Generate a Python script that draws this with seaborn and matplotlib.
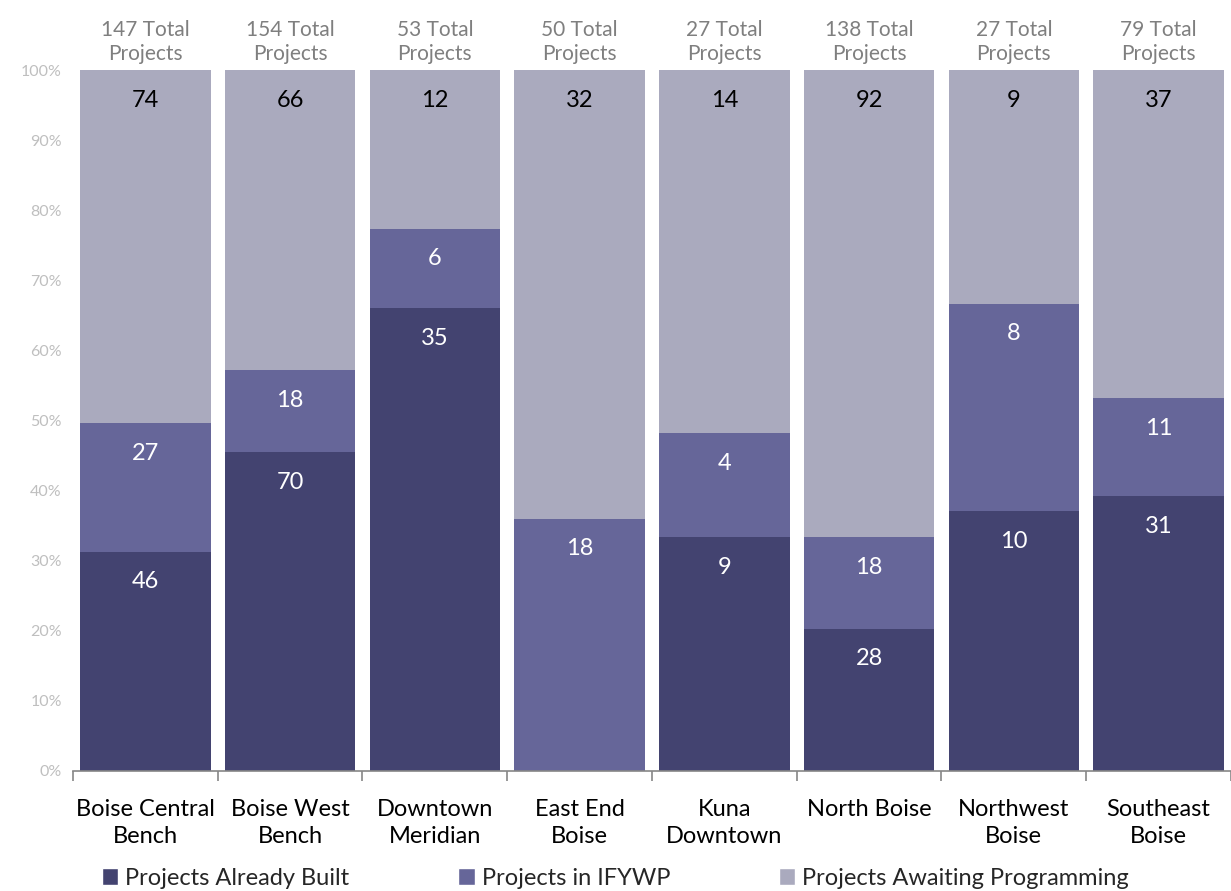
import numpy as np
import pandas as pd
import matplotlib
matplotlib.use("Agg")
import matplotlib.pyplot as plt
from matplotlib.patches import Patch
import seaborn as sns

# data
areas = ["Boise Central\nBench", "Boise West\nBench", "Downtown\nMeridian", "East End\nBoise",
         "Kuna\nDowntown", "North Boise", "Northwest\nBoise", "Southeast\nBoise"]
built = [46, 70, 35, 0, 9, 28, 10, 31]
ifywp = [27, 18, 6, 18, 4, 18, 8, 11]
awaiting = [74, 66, 12, 32, 14, 92, 9, 37]
series_names = ["Projects Already Built", "Projects in IFYWP", "Projects Awaiting Programming"]
colors = ["#434370", "#666699", "#AAAABE"]
label_colors = ["white", "white", "black"]

sns.set_theme(style="white")
plt.rcParams['font.family'] = ['Lato', 'DejaVu Sans']

df = pd.DataFrame({"area": areas, "built": built, "ifywp": ifywp, "awaiting": awaiting})
df["total"] = df.built + df.ifywp + df.awaiting
cols = ["built", "ifywp", "awaiting"]
for c in cols:
    df[c + "_pct"] = df[c] / df.total

fig = plt.figure(figsize=(12.31, 8.91), dpi=100)
ax = fig.add_axes([0.0593, 0.1347, 0.9407, 0.7867])

bottom = np.zeros(len(df))
for i, c in enumerate(cols):
    sns.barplot(data=df, x="area", y=c + "_pct", order=areas, color=colors[i],
                bottom=bottom, width=0.9, ax=ax, saturation=1, edgecolor="none")
    # data labels at inside end of each segment
    for j, (v, p) in enumerate(zip(df[c], df[c + "_pct"])):
        if v > 0:
            top = bottom[j] + p
            ax.text(j, top - 0.043, str(v), ha="center", va="center",
                    fontsize=17, color=label_colors[i])
    bottom = bottom + df[c + "_pct"].values

# totals above bars
for j, t in enumerate(df.total):
    ax.text(j, 1.04, f"{t} Total\nProjects", ha="center", va="center",
            fontsize=15, color="#7F7F7F", linespacing=1.2, clip_on=False)

ax.set_xlim(-0.5, 7.5)
ax.set_ylim(0, 1)
ax.set_yticks(np.arange(0, 1.01, 0.1))
ax.set_yticklabels([f"{int(round(v*100))}%" for v in np.arange(0, 1.01, 0.1)])
ax.tick_params(axis="y", colors="#BFBFBF", labelsize=11.5, length=0, pad=8)
ax.set_xticks(range(len(areas)))
ax.set_xticklabels(areas, fontsize=17, color="black", linespacing=1.35)
ax.set_xticks(np.arange(-0.5, 8, 1), minor=True)
ax.tick_params(axis="x", which="major", length=0, pad=20)
ax.tick_params(axis="x", which="minor", length=7, color="#868686", width=1.2, bottom=True)
ax.set_xlabel("")
ax.set_ylabel("")
for s in ["top", "right", "left"]:
    ax.spines[s].set_visible(False)
ax.spines["bottom"].set_color("#868686")
ax.spines["bottom"].set_linewidth(1.2)

handles = [Patch(facecolor=colors[k], label=series_names[k]) for k in range(3)]
fig.legend(handles=handles, loc="center", bbox_to_anchor=(0.5, 0.014), ncol=3,
           frameon=False, fontsize=17, handlelength=0.7, handleheight=0.7,
           handletextpad=0.3, columnspacing=4.6)

fig.savefig("out.png", dpi=100)
